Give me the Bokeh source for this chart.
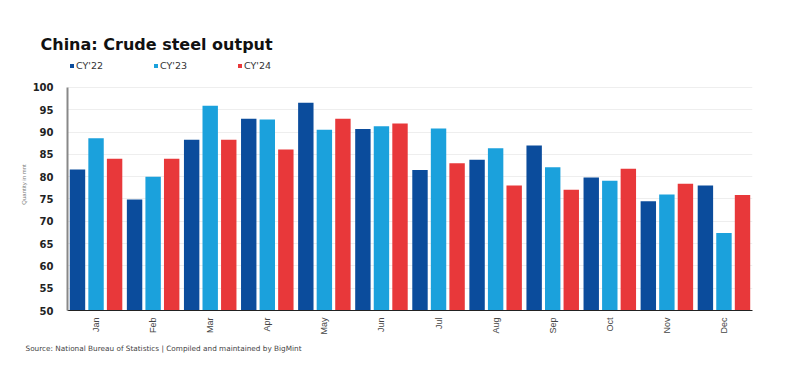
import math
from bokeh.plotting import figure
from bokeh.models import (ColumnDataSource, FactorRange, Range1d, Legend, LegendItem,
                          Title, SingleIntervalTicker)
from bokeh.transform import dodge
from bokeh.embed import file_html
from bokeh.resources import INLINE

months = ["Jan", "Feb", "Mar", "Apr", "May", "Jun", "Jul", "Aug", "Sep", "Oct", "Nov", "Dec"]
cy22 = [81.6, 74.9, 88.3, 93.0, 96.6, 90.7, 81.5, 83.8, 87.0, 79.8, 74.5, 78.0]
cy23 = [88.6, 80.0, 95.9, 92.8, 90.5, 91.3, 90.8, 86.4, 82.1, 79.1, 76.0, 67.4]
cy24 = [84.0, 84.0, 88.3, 86.1, 93.0, 91.9, 83.0, 78.0, 77.1, 81.8, 78.4, 75.9]
series_labels = ["CY'22", "CY'23", "CY'24"]
colors = ["#0b4c9c", "#1ba1dc", "#e8383a"]
y_start, y_end, y_step = 50, 100, 5

src = ColumnDataSource(dict(month=months, cy22=cy22, cy23=cy23, cy24=cy24))

p = figure(x_range=FactorRange(*months), y_range=Range1d(y_start, 106.5),
           width=793, height=368,
           min_border_left=67, min_border_right=41, min_border_top=58, min_border_bottom=58,
           output_backend="svg", toolbar_location=None)

renderers = []
for key, off, col in zip(["cy22", "cy23", "cy24"], [-0.325, 0.0, 0.325], colors):
    r = p.vbar(x=dodge("month", off, range=p.x_range), top=key, width=0.27,
               source=src, fill_color=col, line_color=None)
    renderers.append(r)

p.title.text = "China: Crude steel output"
p.title.text_font = "DejaVu Sans"
p.title.text_font_size = "16px"
p.title.text_font_style = "bold"
p.title.text_color = "#111111"
p.title.offset = -27
p.title.standoff = 10

legend = Legend(items=[LegendItem(label=l, renderers=[r]) for l, r in zip(series_labels, renderers)],
                orientation="horizontal", location="top_left",
                glyph_width=5, glyph_height=5, label_standoff=2, label_width=77,
                label_height=10, spacing=0, padding=0, margin=2,
                label_text_font="DejaVu Sans", label_text_font_size="9.5px",
                label_text_color="#333333", border_line_alpha=0, background_fill_alpha=0)
p.add_layout(legend, "center")

src_title = Title(text="Source:  National Bureau of Statistics | Compiled and maintained by BigMint",
                  align="left", offset=-42, text_font="DejaVu Sans", text_font_size="7.3px",
                  text_font_style="normal", text_color="#444444", standoff=9)
p.add_layout(src_title, "below")

p.yaxis.ticker = SingleIntervalTicker(interval=y_step)
p.yaxis.bounds = (y_start, y_end)
p.ygrid.bounds = (y_start, y_end)
p.yaxis.axis_label = "Quantity in mnt"
p.yaxis.axis_label_text_font = "Liberation Sans"
p.yaxis.axis_label_text_font_size = "6px"
p.yaxis.axis_label_text_font_style = "normal"
p.yaxis.axis_label_text_color = "#777777"
p.yaxis.axis_label_standoff = 3
p.yaxis.major_label_text_font = "DejaVu Sans"
p.yaxis.major_label_text_font_size = "10px"
p.yaxis.major_label_text_font_style = "bold"
p.yaxis.major_label_text_color = "#222222"
p.yaxis.major_label_standoff = 8
p.yaxis.axis_line_color = "#888888"
p.yaxis.axis_line_width = 2
p.yaxis.major_tick_line_color = None
p.yaxis.minor_tick_line_color = None

p.xaxis.major_label_orientation = math.pi / 2
p.xaxis.major_label_text_font = "Liberation Sans"
p.xaxis.major_label_text_font_size = "9px"
p.xaxis.major_label_text_color = "#444444"
p.xaxis.major_label_standoff = 1
p.xaxis.axis_line_color = "#222222"
p.xaxis.major_tick_line_color = None
p.xaxis.minor_tick_line_color = None

p.xgrid.grid_line_color = None
p.ygrid.grid_line_color = "#eeeeee"
p.outline_line_color = None

open("out.html", "w").write(file_html(p, INLINE))
